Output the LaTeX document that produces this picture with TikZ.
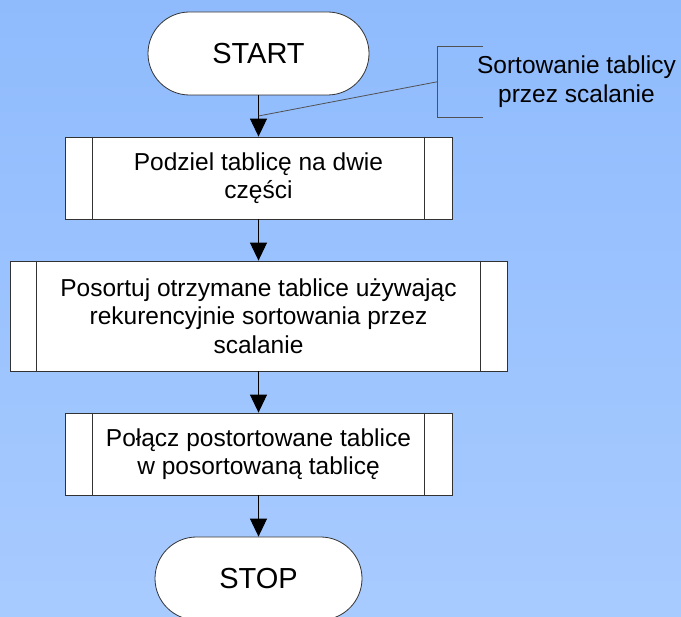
\documentclass[tikz,border=0pt]{standalone}
\usepackage{fontspec}
\setmainfont{Liberation Sans}
\usetikzlibrary{arrows.meta}
\definecolor{bgtop}{RGB}{143,187,253}
\definecolor{bgbot}{RGB}{168,203,255}
\definecolor{edge}{RGB}{50,50,50}
\begin{document}
\begin{tikzpicture}[x=1pt,y=-1pt,
  term/.style={draw=edge,line width=0.8pt,fill=white,rounded corners=41.5pt,minimum height=83pt,inner sep=0pt,font=\fontsize{29}{34}\selectfont},
  proc/.style={draw=edge,line width=0.8pt,fill=white,inner sep=0pt,align=center,font=\fontsize{24.5}{28.5}\selectfont},
  flow/.style={line width=0.9pt,-{Triangle[length=18pt,width=17pt]}},
  note/.style={draw=edge!85,line width=0.8pt}]
\useasboundingbox (0,0) rectangle (681,617);
\shade[top color=bgtop,bottom color=bgbot] (0,0) rectangle (681,617);
\clip (0,0) rectangle (681,617);
\node[term,minimum width=221pt] (start) at (258.5,53.5) {START};
\node[proc,minimum width=387pt,minimum height=82pt] (b1) at (258.5,178) {Podziel tablicę na dwie\\części};
\node[proc,minimum width=497pt,minimum height=110pt] (b2) at (258.5,316) {Posortuj otrzymane tablice używając\\rekurencyjnie sortowania przez\\scalanie};
\node[proc,minimum width=387pt,minimum height=82pt] (b3) at (258.5,454) {Połącz postortowane tablice\\w posortowaną tablicę};
\node[term,minimum width=207pt] (stop) at (258.5,578.5) {STOP};
\foreach \b/\o in {b1/28,b2/27,b3/28}{
  \draw[draw=edge,line width=0.8pt] ([xshift=\o pt]\b.north west) -- ([xshift=\o pt]\b.south west);
  \draw[draw=edge,line width=0.8pt] ([xshift=-\o pt]\b.north east) -- ([xshift=-\o pt]\b.south east);
}
\draw[flow] (start) -- (b1);
\draw[flow] (b1) -- (b2);
\draw[flow] (b2) -- (b3);
\draw[flow] (b3) -- (stop);
\coordinate (nt) at (483,46);
\coordinate (nb) at (483,117);
\coordinate (nm) at (437.7,81.7);
\coordinate (na) at (258.5,116);
\draw[note] (nt) -- (437.7,46) -- (437.7,117) -- (nb);
\draw[note] (nm) -- (na);
\node[align=center,inner sep=0pt,font=\fontsize{24.5}{29}\selectfont] (ntext) at (576.5,81.5) {Sortowanie tablicy\\przez scalanie};
\end{tikzpicture}
\end{document}
